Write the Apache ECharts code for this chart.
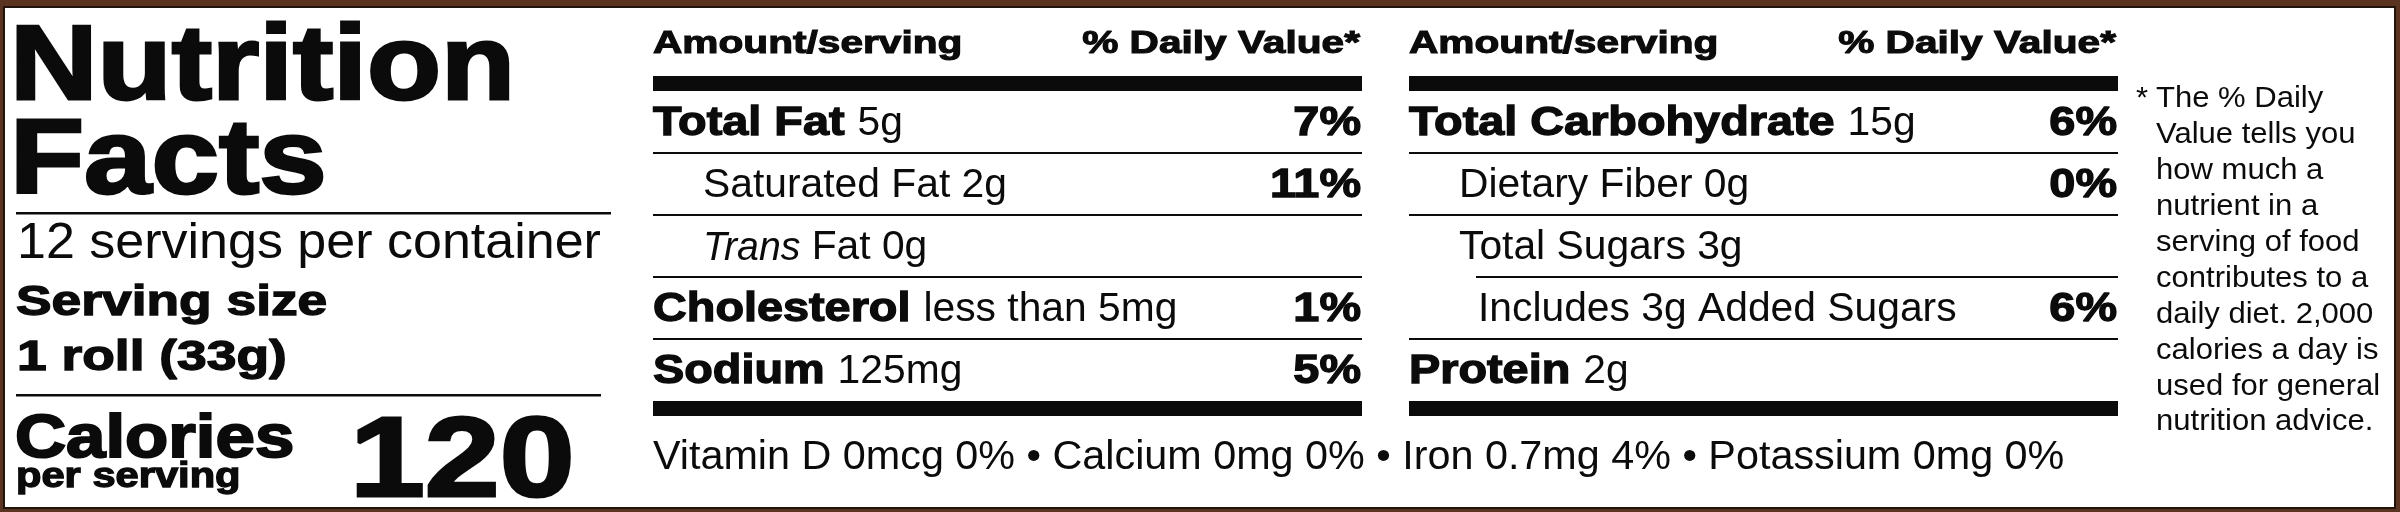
<!DOCTYPE html>
<html><head><meta charset="utf-8">
<script src="https://cdn.jsdelivr.net/npm/echarts@6/dist/echarts.min.js"></script>
<style>html,body{margin:0;padding:0;background:#fff;}#c{width:2400px;height:512px;}</style>
</head><body><div id="c"></div>
<script>
// ---------- data ----------
const titleWords = ['Nutrition', 'Facts'];
const servingsPerContainer = 12;
const servingSizeLabel = 'Serving size';
const servingSize = '1 roll (33g)';
const calories = 120;
const colHeaders = ['Amount/serving', '% Daily Value*'];

const leftNames   = ['Total Fat', 'Saturated Fat', 'Trans Fat', 'Cholesterol', 'Sodium'];
const leftAmounts = ['5g', '2g', '0g', 'less than 5mg', '125mg'];
const leftDV      = ['7%', '11%', '', '1%', '5%'];
const leftLevels  = [0, 1, 1, 0, 0];

const rightNames   = ['Total Carbohydrate', 'Dietary Fiber', 'Total Sugars', 'Added Sugars', 'Protein'];
const rightAmounts = ['15g', '0g', '3g', '3g', '2g'];
const rightDV      = ['6%', '0%', '', '6%', ''];
const rightLevels  = [0, 1, 1, 2, 0];

const microNames   = ['Vitamin D', 'Calcium', 'Iron', 'Potassium'];
const microAmounts = ['0mcg', '0mg', '0.7mg', '0mg'];
const microDV      = ['0%', '0%', '4%', '0%'];

const footnoteLines = ['The % Daily', 'Value tells you', 'how much a', 'nutrient in a',
  'serving of food', 'contributes to a', 'daily diet. 2,000', 'calories a day is',
  'used for general', 'nutrition advice.'];

// ---------- text helpers ----------
const INK = '#0b0b0b';
const FAM = '"Liberation Sans", Arial, Helvetica, sans-serif';
function st(size, weight, sx, stroke, italic) { return {size, weight, sx, stroke: stroke || 0, italic: !!italic}; }
function fontOf(s) { return (s.italic ? 'italic ' : '') + s.weight + ' ' + s.size + 'px ' + FAM; }
const mctx = document.createElement('canvas').getContext('2d');
function tw(str, s) { mctx.font = fontOf(s); return mctx.measureText(str).width * s.sx; }
function txt(str, x, base, s, align) {
  const style = {text: str, x: 0, y: 0, font: fontOf(s), fill: INK,
    textAlign: align || 'left', align: align || 'left',
    textVerticalAlign: 'middle', verticalAlign: 'middle'};
  if (s.stroke) { style.stroke = INK; style.lineWidth = s.stroke; }
  return {type: 'text', x: x, y: base - s.size * 0.265, scaleX: s.sx, silent: true, style};
}
function run(parts, x, base) {
  const out = []; let cx = x;
  parts.forEach(p => { out.push(txt(p[0], cx, base, p[1], 'left')); cx += tw(p[0], p[1]); });
  return out;
}

const S_ROW   = st(40, 'normal', 1.02);
const S_ROW_I = st(40, 'normal', 0.98, 0, true);
const S_ROW_B = st(40, 'bold', 1.17, 1.3);
const S_HEAD  = st(32, 'bold', 1.27, 1.1);
const S_MICRO = st(40, 'normal', 1.033);
const S_FOOT  = st(29, 'normal', 1.07);
const S_TITLE = st(105, 'bold', 1.155, 2.8);
const S_SERV  = st(50, 'normal', 1.04);
const S_SIZE  = st(42, 'bold', 1.27, 1.3);
const S_CAL   = st(61, 'bold', 1.16, 2);
const S_PER   = st(35, 'bold', 1.19, 1.3);
const S_BIG   = st(114, 'bold', 1.18, 3);

// ---------- table series ----------
function tableSeries(gi, names, amounts, dv, levels) {
  return {
    type: 'custom', coordinateSystem: 'cartesian2d', xAxisIndex: gi, yAxisIndex: gi,
    clip: false, silent: true,
    data: names.map((n, i) => [0, i]),
    renderItem(params, api) {
      const i = api.value(1);
      const c = api.coord([0, i]);
      const xR = api.coord([1, i])[0];
      const bh = api.size([0, 1])[1];
      const x0 = c[0], top = c[1] - bh / 2, base = top + bh * 0.71;
      const lvl = levels[i];
      const indent = [0, 50, 69][lvl];
      const kids = [];
      let parts;
      if (lvl === 0) parts = [[names[i] + ' ', S_ROW_B], [amounts[i], S_ROW]];
      else if (lvl === 2) parts = [['Includes ' + amounts[i] + ' ' + names[i], S_ROW]];
      else if (names[i].indexOf('Trans') === 0) parts = [['Trans', S_ROW_I], [names[i].slice(5) + ' ' + amounts[i], S_ROW]];
      else parts = [[names[i] + ' ' + amounts[i], S_ROW]];
      kids.push(...run(parts, x0 + indent, base));
      if (dv[i]) kids.push(txt(dv[i], xR - 1, base, S_ROW_B, 'right'));
      if (i > 0) kids.push({type: 'line', silent: true,
        shape: {x1: x0 + (lvl === 2 ? 67 : 0), y1: top, x2: xR, y2: top},
        style: {stroke: INK, lineWidth: 2.2}});
      if (i === 0) {
        kids.push({type: 'rect', silent: true, shape: {x: x0, y: top - 15, width: xR - x0, height: 15}, style: {fill: INK}});
        kids.push(txt(colHeaders[0], x0, top - 38, S_HEAD, 'left'));
        kids.push(txt(colHeaders[1], xR - 2, top - 38, S_HEAD, 'right'));
      }
      if (i === names.length - 1) {
        kids.push({type: 'rect', silent: true, shape: {x: x0, y: top + bh, width: xR - x0, height: 15}, style: {fill: INK}});
      }
      return {type: 'group', children: kids};
    }
  };
}

// ---------- static graphic ----------
const g = [];
g.push({type: 'rect', shape: {x: 4, y: 7, width: 2391, height: 501}, style: {fill: '#ffffff', stroke: '#22140d', lineWidth: 2}, silent: true});
g.push(txt(titleWords[0], 10, 98, S_TITLE));
g.push(txt(titleWords[1], 10, 192, S_TITLE));
g.push({type: 'rect', shape: {x: 16, y: 212, width: 595, height: 2.5}, style: {fill: INK}, silent: true});
g.push(txt(servingsPerContainer + ' servings per container', 17, 257, S_SERV));
g.push(txt(servingSizeLabel, 16, 315, S_SIZE));
g.push(txt(servingSize, 17, 370, S_SIZE));
g.push({type: 'rect', shape: {x: 16, y: 394, width: 585, height: 2.5}, style: {fill: INK}, silent: true});
g.push(txt('Calories', 15, 456, S_CAL));
g.push(txt('per serving', 16, 487, S_PER));
g.push(txt(String(calories), 350, 495, S_BIG));
g.push(txt(microNames.map((n, i) => n + ' ' + microAmounts[i] + ' ' + microDV[i]).join(' \u2022 '), 653, 469, S_MICRO));
g.push(txt('*', 2136, 107, S_FOOT));
footnoteLines.forEach((l, k) => g.push(txt(l, 2156, 107 + k * 35.9, S_FOOT)));

const chart = echarts.init(document.getElementById('c'), null, {renderer: 'canvas'});
chart.setOption({
  animation: false,
  backgroundColor: '#5b3321',
  graphic: {elements: g},
  grid: [
    {left: 653, top: 91, width: 709, height: 310},
    {left: 1409, top: 91, width: 709, height: 310}
  ],
  xAxis: [
    {type: 'value', gridIndex: 0, min: 0, max: 1, show: false},
    {type: 'value', gridIndex: 1, min: 0, max: 1, show: false}
  ],
  yAxis: [
    {type: 'category', gridIndex: 0, data: leftNames, inverse: true, show: false},
    {type: 'category', gridIndex: 1, data: rightNames, inverse: true, show: false}
  ],
  series: [
    tableSeries(0, leftNames, leftAmounts, leftDV, leftLevels),
    tableSeries(1, rightNames, rightAmounts, rightDV, rightLevels)
  ]
});
</script></body></html>
